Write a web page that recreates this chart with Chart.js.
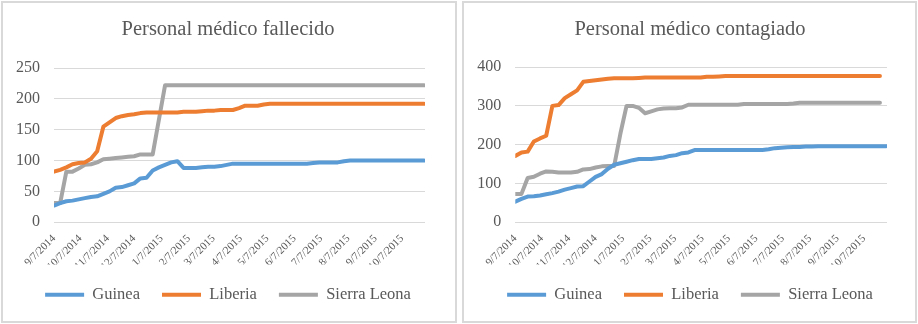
<!DOCTYPE html>
<html><head><meta charset="utf-8">
<script src="https://cdn.jsdelivr.net/npm/chart.js@4"></script>
<style>
html,body{margin:0;padding:0;background:#fff;width:918px;height:324px;overflow:hidden;}
.frame{position:absolute;border:2px solid #d9d9d9;box-sizing:border-box;}
.wrap{position:absolute;top:0;width:459px;height:324px;}
</style></head><body>
<div class="frame" style="left:1px;top:1px;width:456px;height:322px"></div>
<div class="frame" style="left:462px;top:1px;width:455px;height:322px"></div>
<div class="wrap" style="left:0"><canvas id="c1"></canvas></div>
<div class="wrap" style="left:459px"><canvas id="c2"></canvas></div>
<script>
// Report dates (weekly)
const dates = ['9/7/2014','9/14/2014','9/21/2014','9/28/2014','10/5/2014','10/12/2014','10/19/2014','10/26/2014',
 '11/2/2014','11/9/2014','11/16/2014','11/23/2014','11/30/2014','12/7/2014','12/14/2014','12/21/2014','12/28/2014',
 '1/4/2015','1/11/2015','1/18/2015','1/25/2015','2/1/2015','2/8/2015','2/15/2015','2/22/2015','3/1/2015','3/8/2015',
 '3/15/2015','3/22/2015','3/29/2015','4/5/2015','4/12/2015','4/19/2015','4/26/2015','5/3/2015','5/10/2015','5/17/2015',
 '5/24/2015','5/31/2015','6/7/2015','6/14/2015','6/21/2015','6/28/2015','7/5/2015','7/12/2015','7/19/2015','7/26/2015',
 '8/2/2015','8/9/2015','8/16/2015','8/23/2015','8/30/2015','9/6/2015','9/13/2015','9/20/2015','9/27/2015','10/4/2015',
 '10/11/2015','10/18/2015','10/25/2015','11/1/2015'];
const tickLabels = ['9/7/2014','10/7/2014','11/7/2014','12/7/2014','1/7/2015','2/7/2015','3/7/2015','4/7/2015',
 '5/7/2015','6/7/2015','7/7/2015','8/7/2015','9/7/2015','10/7/2015'];
const seriesNames = ['Guinea','Liberia','Sierra Leona'];

// Personal médico fallecido
const guineaFallecido = [27,31,34,35,37,39,41,42,46,50,56,57,60,63,71,72,84,89,93,97,99,88,88,88,89,90,90,91,93,95,
 95,95,95,95,95,95,95,95,95,95,95,95,96,97,97,97,97,99,100,100,100,100,100,100,100,100,100,100,100,100,100];
const liberiaFallecido = [82,85,89,94,96,97,103,115,155,162,169,172,174,175,177,178,178,178,178,178,178,179,179,179,180,
 181,181,182,182,182,185,189,189,189,191,192,192,192,192,192,192,192,192,192,192,192,192,192,192,192,192,192,192,192,192,
 192,192,192,192,192,192];
const sierraFallecido = [31,31,82,82,87,93,94,97,102,103,104,105,106,107,110,110,110,166,222,222,222,222,222,222,222,222,
 222,222,222,222,222,222,222,222,222,222,222,222,222,222,222,222,222,222,222,222,222,222,222,222,222,222,222,222,222,222,
 222,222,222,222,222];

// Personal médico contagiado
const guineaContagiado = [53,60,66,67,69,72,75,79,84,88,92,93,105,117,124,138,148,152,156,160,163,163,163,165,167,171,
 173,178,180,186,186,186,186,186,186,186,186,186,186,186,186,188,191,192,193,194,194,195,195,196,196,196,196,196,196,196,
 196,196,196,196,196];
const liberiaContagiado = [171,180,182,208,216,223,300,302,320,330,340,362,364,366,368,370,371,371,371,371,372,373,373,
 373,373,373,373,373,373,373,373,375,375,376,377,377,377,377,377,377,377,377,377,377,377,377,377,377,377,377,377,377,377,
 377,377,377,377,377,377,377,null];
const sierraContagiado = [73,73,114,117,125,131,130,128,128,128,130,136,137,141,144,145,145,228,300,300,295,281,286,291,
 293,294,294,296,303,303,303,303,303,303,303,303,303,305,305,305,305,305,305,305,305,306,308,308,308,308,308,308,308,308,
 308,308,308,308,308,308,null];

const COLORS = ['#5b9bd5','#ed7d31','#a5a5a5'];
const FONT = "'Liberation Serif','Times New Roman',serif";
const TXT = '#595959';

function dayOffset(s){ const p = s.split('/').map(Number); return Math.round((Date.UTC(p[2],p[0]-1,p[1]) - Date.UTC(2014,8,7))/86400000); }
const xs = dates.map(dayOffset);
const tickDays = tickLabels.map(dayOffset);
function toPoints(vals){ return vals.map((v,i)=>({x: xs[i], y: v})); }

function makeChart(id, title, valueSets, yMax, yStep, g) {
  return new Chart(document.getElementById(id), {
    type: 'line',
    data: { datasets: valueSets.map((vals, k) => ({
      label: seriesNames[k], data: toPoints(vals), borderColor: COLORS[k], backgroundColor: COLORS[k],
      borderWidth: 4, pointRadius: 0, pointHoverRadius: 0, pointStyle: 'line', tension: 0,
      borderCapStyle: 'round', borderJoinStyle: 'round', fill: false, yAxisID: 'y'
    }))},
    options: {
      responsive: true, maintainAspectRatio: false, animation: false, devicePixelRatio: 1, events: [],
      layout: { padding: { left: g.padLeft, right: g.padRight, top: 0, bottom: g.padBottom } },
      plugins: {
        title: { display: true, text: title, color: TXT, font: {family: FONT, size: 20.5, weight: 'normal'},
                 padding: {top: g.titleTop, bottom: g.titleBottom} },
        legend: { position: 'bottom', labels: { usePointStyle: true, pointStyle: 'line', pointStyleWidth: 39,
                 boxHeight: 16.5, padding: 22, color: TXT, font: {family: FONT, size: 16.5} } },
        tooltip: { enabled: false }
      },
      scales: {
        x: { type: 'linear', min: 0, max: 421, grid: {display: false}, border: {display: false},
             afterBuildTicks: sc => { sc.ticks = tickDays.map(v => ({value: v})); },
             afterFit: sc => { sc.height = g.xHeight; },
             ticks: { autoSkip: false, maxRotation: 45, minRotation: 45, color: TXT, padding: 2,
                      font: {family: FONT, size: 11}, callback: (v, i) => tickLabels[i] } },
        y: { position: 'left', min: 0, max: yMax, ticks: { stepSize: yStep, color: TXT, font: {family: FONT, size: 16}, padding: 14 },
             grid: { color: '#d9d9d9', lineWidth: 1, drawTicks: false }, border: {display: false},
             afterFit: sc => { sc.width = g.yWidth; } },
        yRight: { axis: 'y', position: 'right', min: 0, max: yMax, grid: {display: false}, border: {display: false},
             ticks: {display: false}, afterFit: sc => { sc.width = g.rightSpace; } }
      }
    }
  });
}

makeChart('c1', 'Personal médico fallecido', [guineaFallecido, liberiaFallecido, sierraFallecido], 250, 50,
  {padLeft: 14, padRight: 17, yWidth: 40, rightSpace: 17, titleTop: 17, titleBottom: 26.5, xHeight: 42.3, padBottom: 11});
makeChart('c2', 'Personal médico contagiado', [guineaContagiado, liberiaContagiado, sierraContagiado], 400, 100,
  {padLeft: 16.3, padRight: 13.3, yWidth: 40, rightSpace: 17.7, titleTop: 17, titleBottom: 25.5, xHeight: 42.3, padBottom: 11});
</script>
</body></html>
